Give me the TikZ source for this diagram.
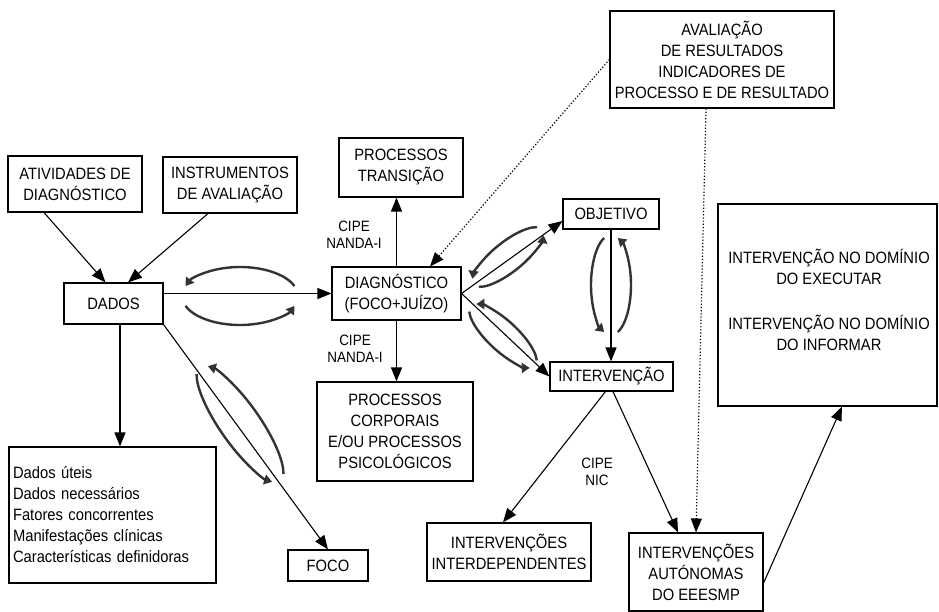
\documentclass[tikz,border=0pt]{standalone}
\usepackage{fontspec}
\setmainfont{Liberation Sans}[FakeStretch=0.9]
\usetikzlibrary{arrows.meta}
\newcommand\boxfont{\fontsize{16.4}{21}\selectfont}
\newcommand\labfont{\fontsize{15}{16.5}\selectfont}
\newcommand\cyclearrows[5]{%
  \begin{scope}[shift={(#1,#2)},rotate=#3]
    \draw[cyc] (340:#4 and #5) arc[start angle=340,end angle=200,x radius=#4,y radius=#5];
    \draw[cyc] (160:#4 and #5) arc[start angle=160,end angle=20,x radius=#4,y radius=#5];
  \end{scope}}
\tikzset{
  box/.style={draw, line width=1.1pt, inner sep=0pt, align=center, font=\boxfont},
  txt/.style={inner sep=0pt, align=center, font=\boxfont},
  lab/.style={inner sep=0pt, align=center, font=\labfont},
  conn/.style={line width=1.1pt, -{Triangle[length=14pt,width=11pt]}},
  dconn/.style={line width=1.2pt, dotted, -{Triangle[length=14pt,width=11pt]}},
  cyc/.style={line width=2.4pt, black!80, -{Triangle[length=8pt,width=10pt]}}
}
\begin{document}
\begin{tikzpicture}[x=1pt,y=-1pt]
\useasboundingbox (0,0) rectangle (939,612);
% boxes
\node[box, minimum width=134pt, minimum height=56pt] (act) at (75,184) {ATIVIDADES DE\\DIAGNÓSTICO};
\node[box, minimum width=134pt, minimum height=56pt] (inst) at (230,185) {INSTRUMENTOS\\DE AVALIAÇÃO};
\node[box, minimum width=99pt, minimum height=41pt] (dados) at (113.5,303.5) {DADOS};
\node[box, minimum width=124pt, minimum height=59pt] (proct) at (401,167.5) {PROCESSOS\\TRANSIÇÃO};
\node[box, minimum width=129pt, minimum height=53pt] (diag) at (396.5,293.5) {DIAGNÓSTICO\\(FOCO+JUÍZO)};
\node[box, minimum width=96pt, minimum height=30pt] (obj) at (611,214) {OBJETIVO};
\node[box, minimum width=123pt, minimum height=29pt] (int) at (611.5,376.5) {INTERVENÇÃO};
\node[box, minimum width=156pt, minimum height=99pt] (corp) at (395,431.5) {PROCESSOS\\CORPORAIS\\E/OU PROCESSOS\\PSICOLÓGICOS};
\node[box, minimum width=207pt, minimum height=136pt, text width=199pt, align=left] (list) at (112.5,515) {Dados úteis\\Dados necessários\\Fatores concorrentes\\Manifestações clínicas\\Características definidoras};
\node[box, minimum width=80pt, minimum height=31pt] (foco) at (328,565.5) {FOCO};
\node[box, minimum width=164pt, minimum height=58pt] (interdep) at (509,552) {INTERVENÇÕES\\INTERDEPENDENTES};
\node[box, minimum width=134pt, minimum height=78pt] (auton) at (696,572) {INTERVENÇÕES\\AUTÓNOMAS\\DO EEESMP};
\node[box, minimum width=224pt, minimum height=97pt] (aval) at (722,59.5) {AVALIAÇÃO\\DE RESULTADOS\\INDICADORES DE\\PROCESSO E DE RESULTADO};
\node[box, minimum width=219pt, minimum height=202pt] (right) at (827.5,305) {};
\node[txt] (rtext) at (829,300) {INTERVENÇÃO NO DOMÍNIO\\DO EXECUTAR\\[24pt]INTERVENÇÃO NO DOMÍNIO\\DO INFORMAR};
% labels
\node[lab] (l1) at (354,235) {CIPE\\NANDA-I};
\node[lab] (l2) at (355,349) {CIPE\\NANDA-I};
\node[lab] (l3) at (597,472) {CIPE\\NIC};
% connectors
\draw[conn] ([xshift=-31pt]act.south) -- ([xshift=-8pt]dados.north);
\draw[conn] ([xshift=-22pt]inst.south) -- ([xshift=14.5pt]dados.north);
\draw[conn] (dados.east |- diag.west) -- (diag.west);
\draw[conn] (diag.north) -- (diag.north |- proct.south);
\draw[conn] (diag.south) -- (diag.south |- corp.north);
\draw[conn] (diag.east) -- ([yshift=-7pt]obj.west);
\draw[conn] (diag.east) -- (int.west);
\draw[conn] (obj.south) -- (obj.south |- int.north);
\draw[conn] ([xshift=-6pt]int.south) -- ([xshift=-6pt]interdep.north);
\draw[conn] ([xshift=1.5pt]int.south) -- ([xshift=-18pt]auton.north);
\draw[conn] ([yshift=-11pt]auton.east) -- ([xshift=14.5pt]right.south);
\draw[conn] ([xshift=6.5pt]dados.south) -- ([xshift=6.5pt]dados.south |- list.north);
\draw[conn] (dados.south east) -- (foco.north);
\draw[dconn] (aval.west) -- ([xshift=33.5pt]diag.north);
\draw[dconn] ([xshift=-16pt]aval.south) -- (auton.north);
% cycle arrows
\cyclearrows{240}{296}{0}{58}{29}
\cyclearrows{240}{424}{-55}{70}{20}
\cyclearrows{508}{257}{38.6}{44}{15}
\cyclearrows{503}{336}{-43}{44}{15}
\cyclearrows{611}{285}{-90}{50}{20}
\end{tikzpicture}
\end{document}
